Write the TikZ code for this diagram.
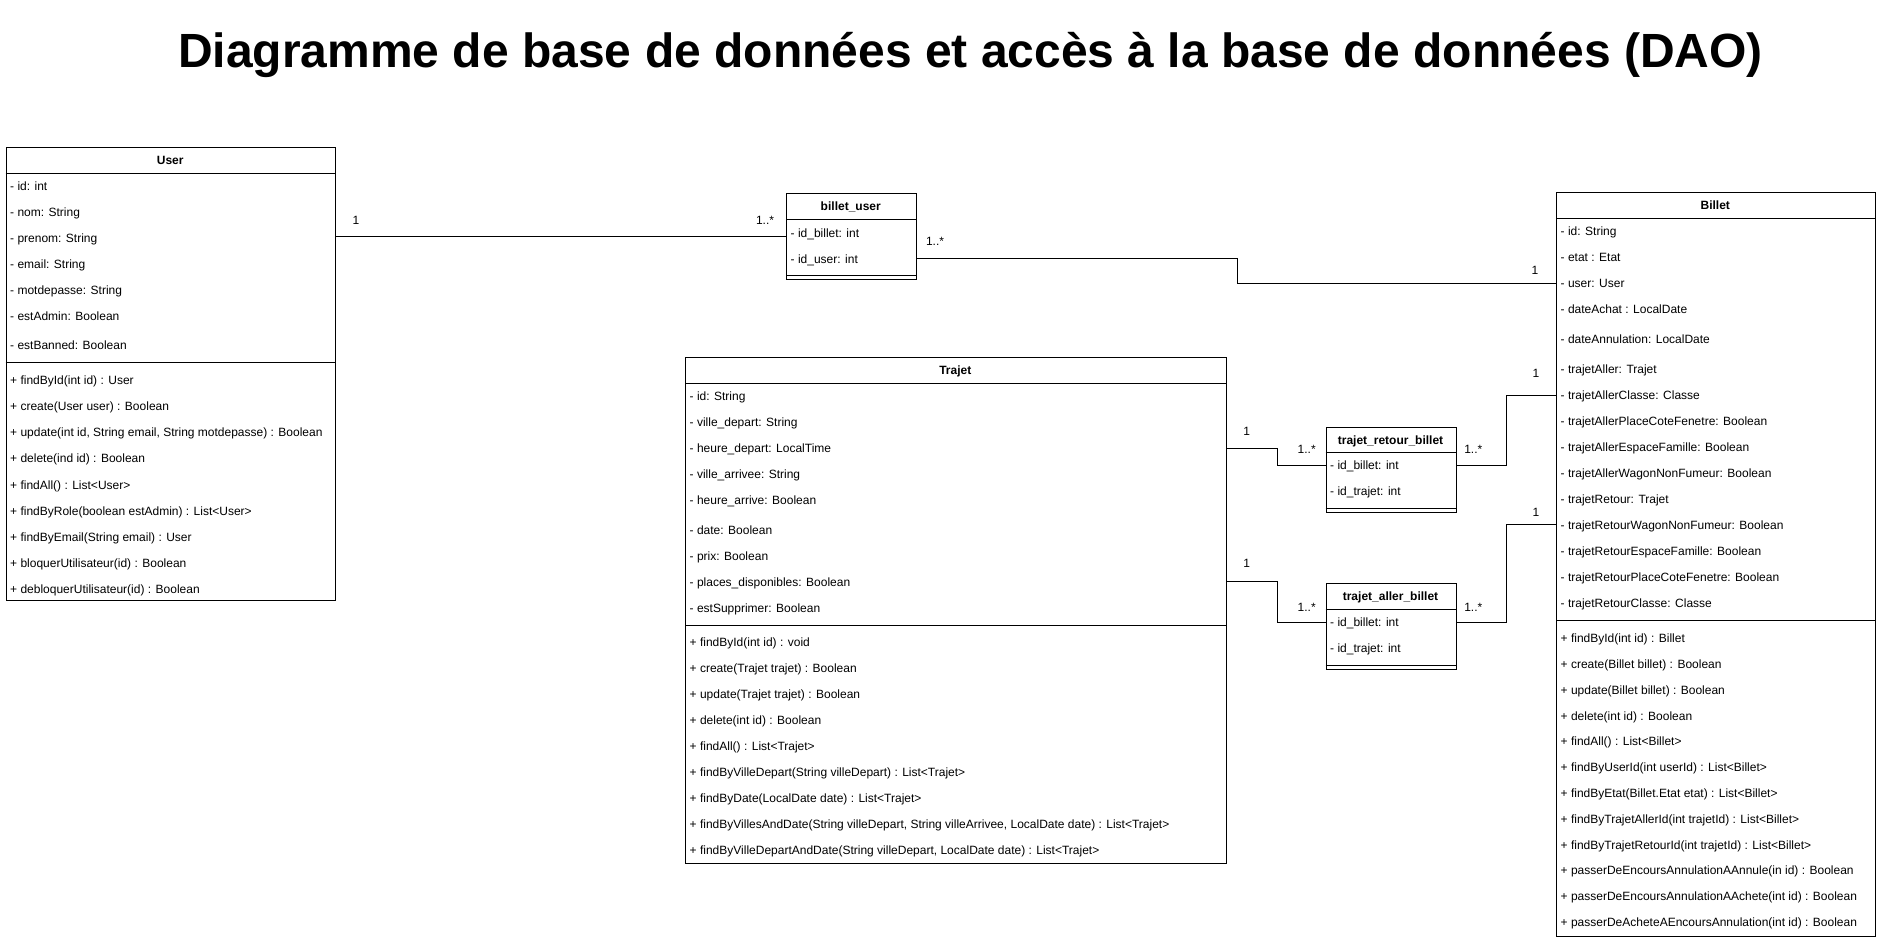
\documentclass[tikz,border=0pt]{standalone}
\usepackage{fontspec}
\setmainfont{Liberation Sans}
\usetikzlibrary{calc}
\begin{document}
\begin{tikzpicture}[x=1pt,y=-1pt,
  cls/.style={draw, line width=1pt, anchor=north west, inner sep=0pt},
  row/.style={anchor=base west, inner xsep=4.5pt, inner ysep=0pt, font=\fontsize{12}{14}\selectfont},
  hdr/.style={anchor=base, inner sep=0pt, font=\bfseries\fontsize{12}{14}\selectfont},
  lab/.style={anchor=base, inner sep=0pt, font=\fontsize{12}{14}\selectfont},
  sep/.style={line width=1pt},
  conn/.style={line width=1pt}]
\useasboundingbox (0,0) rectangle (1884,950);

% Title
\node[anchor=base, inner sep=0pt, font=\bfseries\fontsize{48}{54}\selectfont] (title) at (970.5,67.3)
  {Diagramme de base de données et accès à la base de données (DAO)};

% ---------- User ----------
\node[cls, minimum width=329.5pt, minimum height=453pt] (user) at (5.5,147) {};
\node[hdr] (user-h) at (170.25,164.3) {User};
\draw[sep] ($(user.north west)+(0,26)$) -- ($(user.north east)+(0,26)$);
\foreach[count=\i] \yy/\txt in {186/{- id: int},212/{- nom: String},238/{- prenom: String},264/{- email: String},290/{- motdepasse: String},316/{- estAdmin: Boolean},345/{- estBanned: Boolean}}
  {\node[row] (user-a\i) at (5.5,\yy+4.3) {\txt};}
\draw[sep] ($(user.north west)+(0,215.5)$) -- ($(user.north east)+(0,215.5)$);
\foreach[count=\i] \yy/\txt in {380/{+ findById(int id) : User},406/{+ create(User user) : Boolean},432/{+ update(int id, String email, String motdepasse) : Boolean},458/{+ delete(ind id) : Boolean},485/{+ findAll() : List<User>},511/{+ findByRole(boolean estAdmin) : List<User>},537/{+ findByEmail(String email) : User},563/{+ bloquerUtilisateur(id) : Boolean},589/{+ debloquerUtilisateur(id) : Boolean}}
  {\node[row] (user-m\i) at (5.5,\yy+4.3) {\txt};}

% ---------- billet_user ----------
\node[cls, minimum width=129.5pt, minimum height=86pt] (bu) at (786,193.3) {};
\node[hdr] (bu-h) at (850.75,210.6) {billet\_user};
\draw[sep] ($(bu.north west)+(0,26)$) -- ($(bu.north east)+(0,26)$);
\node[row] (bu-a1) at (786,237) {- id\_billet: int};
\node[row] (bu-a2) at (786,263.3) {- id\_user: int};
\draw[sep] ($(bu.north west)+(0,82.2)$) -- ($(bu.north east)+(0,82.2)$);

% ---------- Billet ----------
\node[cls, minimum width=318.5pt, minimum height=744pt] (billet) at (1556,192) {};
\node[hdr] (billet-h) at (1715.25,209.3) {Billet};
\draw[sep] ($(billet.north west)+(0,26)$) -- ($(billet.north east)+(0,26)$);
\foreach[count=\i] \yy/\txt in {231.5/{- id: String},257/{- etat : Etat},283.5/{- user: User},309.5/{- dateAchat : LocalDate},339.5/{- dateAnnulation: LocalDate},369.5/{- trajetAller: Trajet},395.5/{- trajetAllerClasse: Classe},421.5/{- trajetAllerPlaceCoteFenetre: Boolean},447.5/{- trajetAllerEspaceFamille: Boolean},473.5/{- trajetAllerWagonNonFumeur: Boolean},499.5/{- trajetRetour: Trajet},525.5/{- trajetRetourWagonNonFumeur: Boolean},551.5/{- trajetRetourEspaceFamille: Boolean},577.5/{- trajetRetourPlaceCoteFenetre: Boolean},603.5/{- trajetRetourClasse: Classe}}
  {\node[row] (billet-a\i) at (1556,\yy+4.3) {\txt};}
\draw[sep] ($(billet.north west)+(0,428)$) -- ($(billet.north east)+(0,428)$);
\foreach[count=\i] \yy/\txt in {638.3/{+ findById(int id) : Billet},664.1/{+ create(Billet billet) : Boolean},689.9/{+ update(Billet billet) : Boolean},715.7/{+ delete(int id) : Boolean},741.5/{+ findAll() : List<Billet>},767.3/{+ findByUserId(int userId) : List<Billet>},793.1/{+ findByEtat(Billet.Etat etat) : List<Billet>},818.9/{+ findByTrajetAllerId(int trajetId) : List<Billet>},844.7/{+ findByTrajetRetourId(int trajetId) : List<Billet>},870.5/{+ passerDeEncoursAnnulationAAnnule(in id) : Boolean},896.3/{+ passerDeEncoursAnnulationAAchete(int id) : Boolean},922.1/{+ passerDeAcheteAEncoursAnnulation(int id) : Boolean}}
  {\node[row] (billet-m\i) at (1556,\yy+4.3) {\txt};}

% ---------- Trajet ----------
\node[cls, minimum width=540.5pt, minimum height=506pt] (trajet) at (685,357) {};
\node[hdr] (trajet-h) at (955.25,374.3) {Trajet};
\draw[sep] ($(trajet.north west)+(0,26)$) -- ($(trajet.north east)+(0,26)$);
\foreach[count=\i] \yy/\txt in {396/{- id: String},422/{- ville\_depart: String},448/{- heure\_depart: LocalTime},474/{- ville\_arrivee: String},500/{- heure\_arrive: Boolean},530/{- date: Boolean},556/{- prix: Boolean},582/{- places\_disponibles: Boolean},608/{- estSupprimer: Boolean}}
  {\node[row] (trajet-a\i) at (685,\yy+4.3) {\txt};}
\draw[sep] ($(trajet.north west)+(0,268)$) -- ($(trajet.north east)+(0,268)$);
\foreach[count=\i] \yy/\txt in {642/{+ findById(int id) : void},668/{+ create(Trajet trajet) : Boolean},694/{+ update(Trajet trajet) : Boolean},720/{+ delete(int id) : Boolean},746/{+ findAll() : List<Trajet>},772/{+ findByVilleDepart(String villeDepart) : List<Trajet>},798/{+ findByDate(LocalDate date) : List<Trajet>},824/{+ findByVillesAndDate(String villeDepart, String villeArrivee, LocalDate date) : List<Trajet>},850/{+ findByVilleDepartAndDate(String villeDepart, LocalDate date) : List<Trajet>}}
  {\node[row] (trajet-m\i) at (685,\yy+4.3) {\txt};}

% ---------- trajet_retour_billet ----------
\node[cls, minimum width=130pt, minimum height=85.6pt] (trb) at (1325.5,426.7) {};
\node[hdr] (trb-h) at (1390.5,444) {trajet\_retour\_billet};
\draw[sep] ($(trb.north west)+(0,26)$) -- ($(trb.north east)+(0,26)$);
\node[row] (trb-a1) at (1325.5,469.8) {- id\_billet: int};
\node[row] (trb-a2) at (1325.5,495.8) {- id\_trajet: int};
\draw[sep] ($(trb.north west)+(0,81.8)$) -- ($(trb.north east)+(0,81.8)$);

% ---------- trajet_aller_billet ----------
\node[cls, minimum width=130pt, minimum height=85.7pt] (tab) at (1325.5,583.3) {};
\node[hdr] (tab-h) at (1390.5,600.6) {trajet\_aller\_billet};
\draw[sep] ($(tab.north west)+(0,26)$) -- ($(tab.north east)+(0,26)$);
\node[row] (tab-a1) at (1325.5,626.6) {- id\_billet: int};
\node[row] (tab-a2) at (1325.5,652.6) {- id\_trajet: int};
\draw[sep] ($(tab.north west)+(0,81.7)$) -- ($(tab.north east)+(0,81.7)$);

% ---------- connectors ----------
\draw[conn] ($(user.north east)+(0,89.5)$) -- ($(bu.north west)+(0,43.2)$);
\draw[conn] ($(bu.north east)+(0,65.4)$) -- ++(320.5,0) |- ($(billet.north west)+(0,91.5)$);
\draw[conn] ($(trajet.north east)+(0,91)$) -- ++(50.5,0) |- ($(trb.north west)+(0,38.8)$);
\draw[conn] ($(trb.north east)+(0,38.8)$) -- ++(50,0) |- ($(billet.north west)+(0,203.5)$);
\draw[conn] ($(trajet.north east)+(0,224.5)$) -- ++(50.5,0) |- ($(tab.north west)+(0,39)$);
\draw[conn] ($(tab.north east)+(0,39)$) -- ++(50,0) |- ($(billet.north west)+(0,332.5)$);

% ---------- multiplicities ----------
\node[lab] (l1a) at (356,224.3) {1};
\node[lab] (l1b) at (765,224.3) {1..*};
\node[lab] (l2a) at (935,245) {1..*};
\node[lab] (l2b) at (1535,274.3) {1};
\node[lab] (l3a) at (1246.7,435) {1};
\node[lab] (l3b) at (1306.7,453.6) {1..*};
\node[lab] (l4a) at (1473.3,453.6) {1..*};
\node[lab] (l4b) at (1536,377.6) {1};
\node[lab] (l5a) at (1246.7,567.6) {1};
\node[lab] (l5b) at (1306.7,611.6) {1..*};
\node[lab] (l6a) at (1473.3,611.6) {1..*};
\node[lab] (l6b) at (1536,516) {1};
\end{tikzpicture}
\end{document}
